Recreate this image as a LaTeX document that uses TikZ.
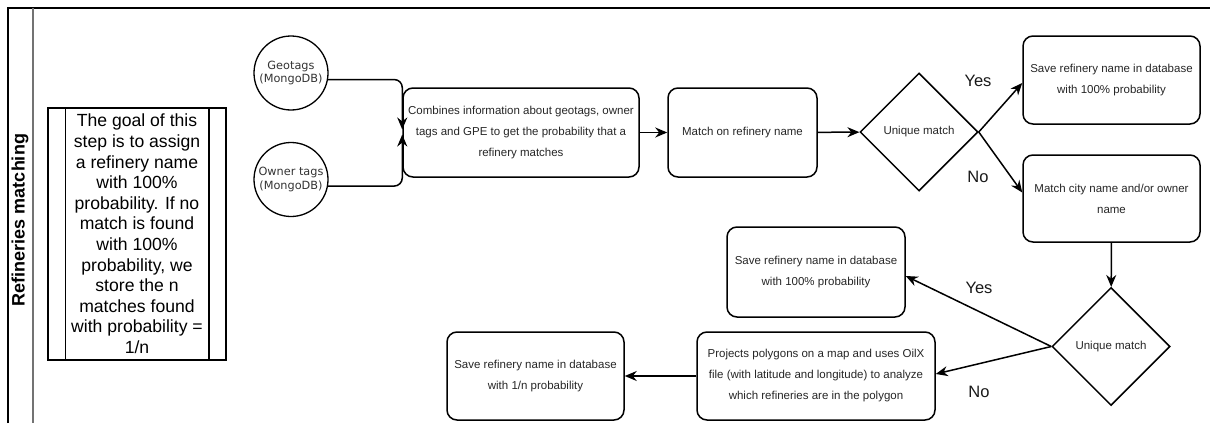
\documentclass[tikz,border=0pt]{standalone}
\usepackage{fontspec}
\setmainfont{Liberation Sans}
\newfontfamily\dejavu{DejaVu Sans}
\usetikzlibrary{arrows.meta,positioning,shapes.geometric}
\tikzset{
	stepbox/.style={draw, line width=1.5pt, rounded corners=10pt, align=center, inner sep=0pt, text=black!85, font=\fontsize{11.5}{21}\selectfont},
	decision/.style={draw, diamond, line width=1.5pt, inner sep=0pt, minimum width=118pt, minimum height=118pt, text=black!85, font=\fontsize{11.5}{14}\selectfont},
	store/.style={draw, circle, line width=1.3pt, minimum size=74pt, inner sep=0pt, align=center, text=black!80, font=\dejavu\fontsize{11.3}{13.5}\selectfont},
	flow/.style={line width=1.5pt, -{Stealth[length=12pt,width=10pt]}},
	answer/.style={font=\fontsize{16.5}{18}\selectfont, text=black!90}
}

\begin{document}
\begin{tikzpicture}[x=1pt, y=-1pt]
			%%%%% START %%%%%
			\useasboundingbox (0,0) rectangle (1210,423);
			
			\draw[line width=1.8pt] (8,423) -- (8,8) -- (1210,8);
			\draw[line width=1.2pt, color=black!55] (33,8) -- (33,423);
			\node[rotate=90, font=\bfseries\fontsize{18}{20}\selectfont] (lane) at (20,220) {Refineries matching};
			
			\node[draw, line width=1.5pt, minimum width=178pt, minimum height=252pt, inner sep=0pt, align=center, font=\fontsize{17.6}{20.6}\selectfont] (goal) at (137,234)
				{The goal of this\\step is to assign\\a refinery name\\with 100\%\\probability. If no\\match is found\\with 100\%\\probability, we\\store the n\\matches found\\with probability =\\1/n};
			\draw[line width=1.5pt] ([xshift=18pt]goal.north west) -- ([xshift=18pt]goal.south west);
			\draw[line width=1.5pt] ([xshift=-18pt]goal.north east) -- ([xshift=-18pt]goal.south east);
			
			\node[store] (geo) at (291,73) {Geotags\\(MongoDB)};
			\node[store] (owner) at (291,179.5) {Owner tags\\(MongoDB)};
			
			\node[stepbox, minimum width=236pt, minimum height=89pt] (combine) at (521,132.5)
				{Combines information about geotags, owner\\tags and GPE to get the probability that a\\refinery matches};
			\node[stepbox, minimum width=149pt, minimum height=89pt] (name) at (742.5,132.5) {Match on refinery name};
			\node[decision] (unique) at (919,132) {Unique match};
			\node[stepbox, minimum width=177pt, minimum height=88pt] (save) at (1111.5,80)
				{Save refinery name in database\\with 100\% probability};
			\node[stepbox, minimum width=177pt, minimum height=87pt] (city) at (1111.5,198.5)
				{Match city name and/or owner\\name};
			\node[decision] (again) at (1111,346.5) {Unique match};
			\node[stepbox, minimum width=178pt, minimum height=90pt] (savetwo) at (816,272)
				{Save refinery name in database\\with 100\% probability};
			\node[stepbox, minimum width=238pt, minimum height=88pt] (project) at (816,376)
				{Projects polygons on a map and uses OilX\\file (with latitude and longitude) to analyze\\which refineries are in the polygon};
			\node[stepbox, minimum width=177pt, minimum height=88pt] (saven) at (535.5,376)
				{Save refinery name in database\\with 1/n probability};
			
			\draw[flow, rounded corners=8pt] (geo.-10) -| ([yshift=3pt]combine.west);
			\draw[flow, rounded corners=8pt] (owner.-10) -| ([yshift=-2pt]combine.west);
			\draw[flow] (combine) -- (name);
			\draw[flow] (name) -- (unique);
			\draw[flow] (unique.east) -- ([yshift=-3pt]save.west);
			\draw[flow] (unique.east) -- ([yshift=6pt]city.west);
			\node[answer] (yes) at (978,81) {Yes};
			\node[answer] (no) at (978,177) {No};
			
			\draw[flow] (city) -- (again);
			\draw[flow] (again.west) -- ([yshift=-4pt]savetwo.east);
			\draw[flow] (again.west) -- ([yshift=2pt]project.east);
			\node[answer] (yestwo) at (979,288) {Yes};
			\node[answer] (notwo) at (979,392) {No};
			\draw[flow] (project) -- (saven);
			%%%%% END %%%%%
\end{tikzpicture}
\end{document}
